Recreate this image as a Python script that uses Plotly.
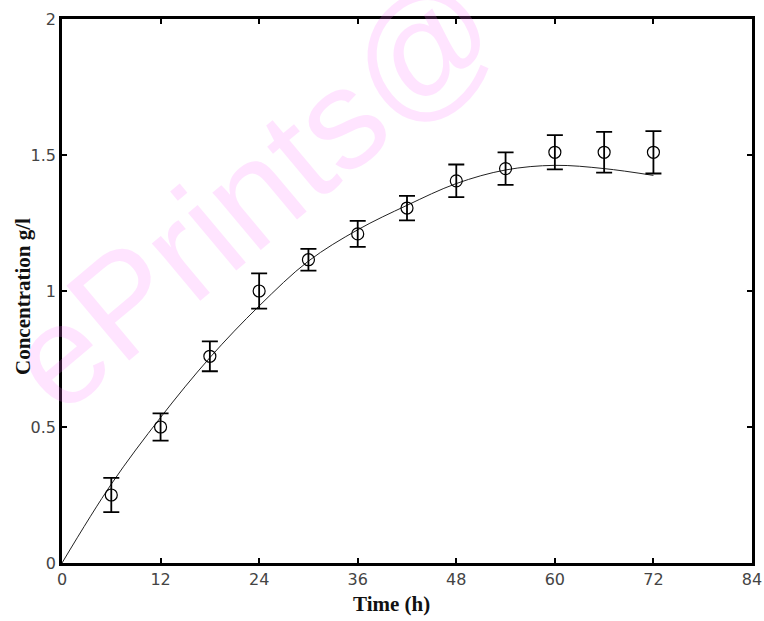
import plotly.graph_objects as go

# Measured data (time in h, concentration in g/l)
time_h = [6, 12, 18, 24, 30, 36, 42, 48, 54, 60, 66, 72]
conc = [0.25, 0.50, 0.76, 1.00, 1.115, 1.21, 1.305, 1.405, 1.45, 1.51, 1.51, 1.51]
err = [0.063, 0.05, 0.055, 0.065, 0.04, 0.048, 0.045, 0.06, 0.06, 0.063, 0.075, 0.078]

# Fitted model curve
fit_t = [0, 6, 12, 18, 24, 30, 36, 42, 48, 54, 60, 66, 72]
fit_c = [0.0, 0.29, 0.535, 0.755, 0.945, 1.11, 1.225, 1.315, 1.395, 1.445, 1.462, 1.45, 1.425]

x_ticks = [0, 12, 24, 36, 48, 60, 72, 84]
y_ticks = [0, 0.5, 1, 1.5, 2]
y_tick_labels = ["0", "0.5", "1", "1.5", "2"]

L, R, T, B = 62, 12, 19, 58
W, H = 764, 621
PW = W - L - R
PH = H - T - B

fig = go.Figure()

fig.add_trace(go.Scatter(
    x=fit_t, y=fit_c, mode="lines", line=dict(color="#222", width=1, shape="spline"),
    showlegend=False, hoverinfo="skip"))

fig.add_trace(go.Scatter(
    x=time_h, y=conc, mode="markers",
    marker=dict(symbol="circle-open", size=12, color="black", line=dict(width=1.2)),
    error_y=dict(type="data", array=err, visible=True, color="black", thickness=1.8, width=8),
    showlegend=False))

def px(xa):
    return (xa - L) / PW

def py(ya):
    return (H - B - ya) / PH

# watermark
fig.add_annotation(
    text="ePrints@", xref="paper", yref="paper", x=px(252), y=py(192),
    xanchor="center", yanchor="middle",
    showarrow=False, textangle=-40,
    font=dict(family="Liberation Sans, Arial, sans-serif", size=142, color="rgba(255,120,255,0.2)"))

# axis titles
title_font = dict(family="Liberation Serif, Times New Roman, serif", size=21, color="#111")
fig.add_annotation(text="<b>Time (h)</b>", xref="paper", yref="paper",
                   x=px(391), y=py(604),
                   xanchor="center", yanchor="middle", showarrow=False, font=title_font)
fig.add_annotation(text="<b>Concentration g/l</b>", xref="paper", yref="paper",
                   x=px(23), y=py(297), textangle=-90,
                   xanchor="center", yanchor="middle", showarrow=False, font=title_font)

axis_common = dict(
    showgrid=False, zeroline=False, showline=True, linecolor="black", linewidth=2.5,
    mirror="allticks", ticks="inside", ticklen=5, tickwidth=2, tickcolor="black",
    automargin=False,
    tickfont=dict(family="DejaVu Sans, sans-serif", size=16, color="#444"),
)

fig.update_xaxes(range=[0, 84], tickvals=x_ticks, ticktext=[str(v) for v in x_ticks],
                 **axis_common)
fig.update_yaxes(range=[0, 2], tickvals=y_ticks, ticktext=y_tick_labels,
                 **axis_common)

fig.update_layout(
    width=W, height=H,
    margin=dict(l=L, r=R, t=T, b=B),
    plot_bgcolor="white", paper_bgcolor="white",
)

fig.write_html("out.html", config={"displayModeBar": False},
               post_script="document.body.style.margin='0';document.body.style.overflow='hidden';")
